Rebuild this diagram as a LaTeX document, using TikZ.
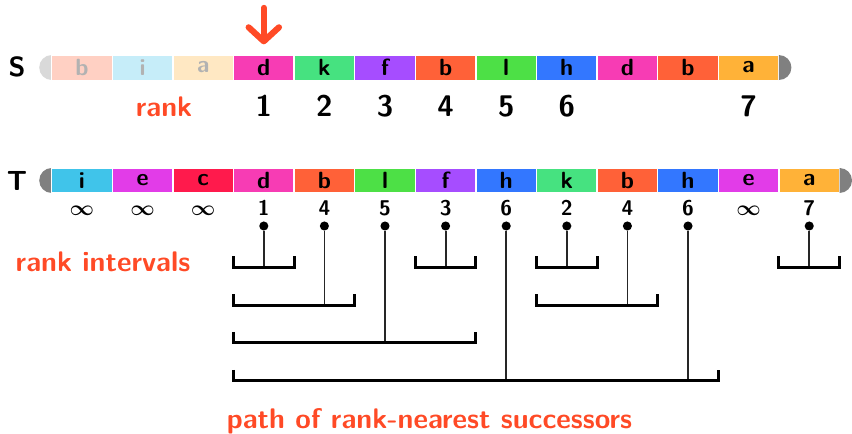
\documentclass[tikz,border=0pt]{standalone}
\usepackage{tikz}
\usepackage{amsmath,amssymb}
\usetikzlibrary{arrows.meta, positioning, calc}
\definecolor{rankred}{HTML}{FF4A26}
\definecolor{capgray}{HTML}{808080}
\definecolor{leta}{HTML}{FFB238}
\definecolor{letb}{HTML}{FF6138}
\definecolor{letc}{HTML}{FF1A4C}
\definecolor{letd}{HTML}{F73CB4}
\definecolor{lete}{HTML}{E23CE8}
\definecolor{letf}{HTML}{A64DFF}
\definecolor{leth}{HTML}{3377FF}
\definecolor{leti}{HTML}{40C4EA}
\definecolor{letk}{HTML}{46E280}
\definecolor{letl}{HTML}{4DE046}

\tikzset{
  cell/.style={draw=white, line width=0.7pt, minimum width=1cm, minimum height=0.42cm, inner sep=0pt,
    font=\fontsize{11}{11}\selectfont\sffamily\bfseries},
  dot/.style={circle, fill=black, inner sep=0pt, minimum size=0.15cm},
  stem/.style={black!85, line width=0.85pt},
  bar/.style={black, line width=1.4pt},
  redlabel/.style={rankred, font=\fontsize{13.3}{13.3}\selectfont\sffamily\bfseries}
}

% bracket under cells #1..#2 on level #3
\newcommand{\rankbracket}[3]{%
  \draw[bar] (#1,#3+0.18) -- (#1,#3) -- (#2+1,#3) -- (#2+1,#3+0.18);}

\begin{document}
\begin{tikzpicture}
  \useasboundingbox (-0.853,0) rectangle (13.206,-7.145);

  % String S - the first three letters are already passed
  \node[font=\fontsize{13}{13}\selectfont\sffamily\bfseries, anchor=base] (labS) at (-0.573,-1.254) {S};
  \fill[capgray!30] (0,-0.908) arc (90:270:0.206) -- cycle;
  \foreach \c [count=\k from 0] in {b,i,a} {
    \node[cell, fill=let\c!30, text=black!30] (s\k) at (\k+0.5,-1.114) {\c};
  }
  \foreach \c [count=\k from 3] in {d,k,f,b,l,h,d,b,a} {
    \node[cell, fill=let\c] (s\k) at (\k+0.5,-1.114) {\c};
  }
  \fill[capgray] (12,-0.908) arc (90:-90:0.206) -- cycle;

  % Current position
  \coordinate (arrowtop) at (3.5,-0.13);
  \draw[rankred, line width=2.9pt, line cap=round, shorten >=0.16cm,
    -{Straight Barb[length=0.23cm, width=0.5cm, line cap=round, round]}] (arrowtop) -- (s3);

  % Ranks of the distinct letters
  \node[redlabel, anchor=base] (ranklab) at (1.855,-1.93) {rank};
  \foreach \r/\k in {1/3, 2/4, 3/5, 4/6, 5/7, 6/8, 7/11} {
    \node[font=\fontsize{14}{14}\selectfont\sffamily\bfseries, anchor=base] (r\r) at (\k+0.5,-1.93) {\r};
  }

  % String T
  \node[font=\fontsize{13}{13}\selectfont\sffamily\bfseries, anchor=base] (labT) at (-0.573,-3.147) {T};
  \fill[capgray] (0,-2.772) arc (90:270:0.206) -- cycle;
  \foreach \c [count=\k from 0] in {i,e,c,d,b,l,f,h,k,b,h,e,a} {
    \node[cell, fill=let\c] (t\k) at (\k+0.5,-2.978) {\c};
  }
  \fill[capgray] (13,-2.772) arc (90:-90:0.206) -- cycle;

  % Rank values under T
  \foreach \v [count=\k from 0] in {$\boldsymbol\infty$,$\boldsymbol\infty$,$\boldsymbol\infty$,1,4,5,3,6,2,4,6,$\boldsymbol\infty$,7} {
    \node[font=\fontsize{10}{10}\selectfont\sffamily\bfseries, anchor=base] (v\k) at (\k+0.5,-3.548) {\v};
  }
  \foreach \k in {3,...,10,12} {
    \node[dot] (p\k) at (\k+0.5,-3.729) {};
  }

  % Levels of the brackets
  \coordinate (lvA) at (0,-4.411);
  \coordinate (lvB) at (0,-5.033);
  \coordinate (lvC) at (0,-5.655);
  \coordinate (lvD) at (0,-6.282);

  \node[redlabel, anchor=base] (intlab) at (0.847,-4.48) {rank intervals};

  % Stems
  \foreach \k in {3,6,8,12} {\draw[stem] (p\k) -- (p\k |- lvA);}
  \foreach \k in {4,9} {\draw[stem] (p\k) -- (p\k |- lvB);}
  \draw[stem] (p5) -- (p5 |- lvC);
  \foreach \k in {7,10} {\draw[stem] (p\k) -- (p\k |- lvD);}

  % Brackets
  \rankbracket{3}{3}{-4.411}
  \rankbracket{6}{6}{-4.411}
  \rankbracket{8}{8}{-4.411}
  \rankbracket{12}{12}{-4.411}
  \rankbracket{3}{4}{-5.033}
  \rankbracket{8}{9}{-5.033}
  \rankbracket{3}{6}{-5.655}
  \rankbracket{3}{10}{-6.282}

  \node[redlabel, anchor=base] (pathlab) at (6.234,-7.07) {path of rank-nearest successors};
\end{tikzpicture}
\end{document}
